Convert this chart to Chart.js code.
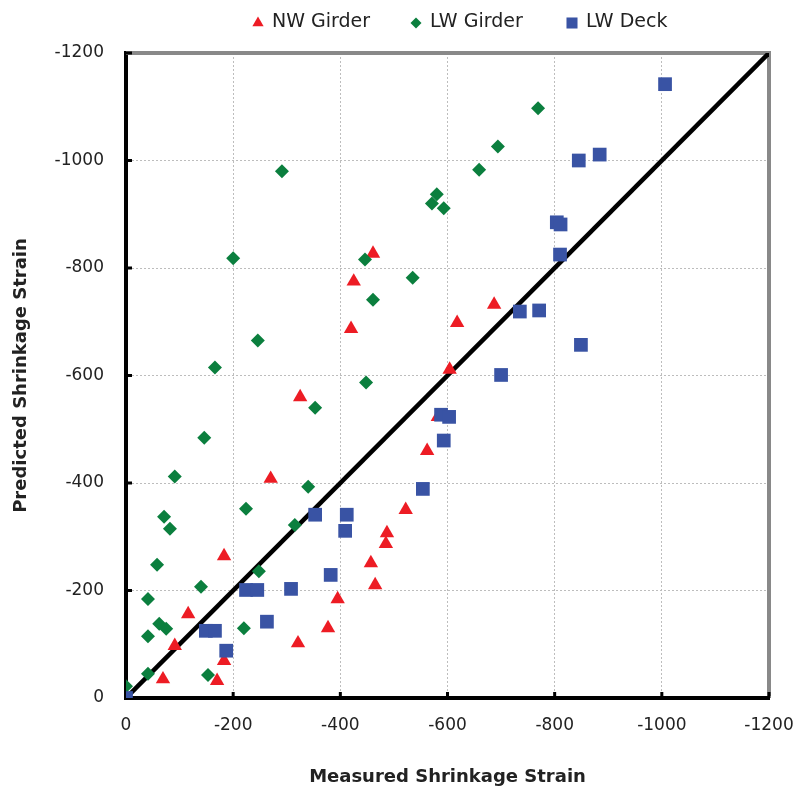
<!DOCTYPE html>
<html>
<head>
<meta charset="utf-8">
<script src="https://cdn.jsdelivr.net/npm/chart.js@4.4.1/dist/chart.umd.min.js"></script>
<style>
  html, body { margin: 0; padding: 0; background: #fff; }
  #wrap { width: 799px; height: 796px; }
</style>
</head>
<body>
<div id="wrap"><canvas id="myChart" width="799" height="796"></canvas></div>
<script>
// measured vs predicted shrinkage strain (negative = shrinkage)
const nwMeasured  = [-325, -270, -183, -116, -91, -69, -183, -170, -321, -377, -395, -457,
                     -465, -485, -487, -522, -562, -582, -604, -461, -425, -420, -687, -618];
const nwPredicted = [-560, -408, -264, -156, -97, -35, -69, -32, -102, -130, -184, -251,
                     -210, -287, -307, -350, -460, -523, -611, -827, -775, -687, -732, -698];

const lwgMeasured  = [-291, -200, -580, -571, -593, -446, -535, -461, -246, -166, -769, -694,
                      -659, -448, -353, -146, -91, -340, -224, -71, -82, -315, -58, -248,
                      -140, -41, -62, -75, -41, -220, -41, -153, 0];
const lwgPredicted = [-980, -818, -937, -920, -911, -816, -782, -741, -665, -615, -1097, -1026,
                      -983, -587, -540, -484, -412, -393, -352, -337, -315, -322, -248, -236,
                      -207, -184, -138, -129, -115, -130, -45, -43, -22];

const deckMeasured  = [-1006, -845, -884, -804, -811, -810, -735, -771, -849, -700, -588, -603,
                       -593, -554, -353, -412, -409, -382, -308, -224, -245, -263, -149, -166,
                       -187, 0];
const deckPredicted = [-1142, -1000, -1011, -885, -881, -825, -719, -721, -657, -601, -527, -523,
                       -479, -389, -341, -341, -311, -229, -203, -201, -201, -142, -125, -125,
                       -88, 0];

// line of equality
const equalityX = [0, -1200];
const equalityY = [0, -1200];

const seriesLabels = ['NW Girder', 'LW Girder', 'LW Deck'];

const toPoints = (xs, ys) => xs.map((x, i) => ({ x: x, y: ys[i] }));

Chart.defaults.font.family = "'DejaVu Sans', sans-serif";
Chart.defaults.color = '#222';

// legend spots at the top of the picture
const legendSpots = {
  'NW Girder': { x: 258, r: 6.5 },
  'LW Girder': { x: 416, r: 5.5 },
  'LW Deck':   { x: 572, r: 7.8 }
};

const topLegend = {
  id: 'topLegend',
  afterDraw(chart) {
    const ctx = chart.ctx;
    ctx.save();
    ctx.font = "19px 'DejaVu Sans'";
    ctx.textBaseline = 'middle';
    chart.data.datasets.forEach(ds => {
      const spot = legendSpots[ds.label];
      if (!spot) return;
      ctx.fillStyle = ds.backgroundColor;
      Chart.helpers.drawPoint(ctx, { pointStyle: ds.pointStyle, radius: spot.r, rotation: 0, borderWidth: 0 }, spot.x, 23);
      ctx.fillStyle = '#222';
      ctx.fillText(ds.label, spot.x + 14, 22);
    });
    ctx.restore();
  }
};

const plotFrame = {
  id: 'plotFrame',
  beforeDatasetsDraw(chart) {
    const { ctx, chartArea: a, scales } = chart;
    ctx.save();
    ctx.strokeStyle = '#898989';
    ctx.lineWidth = 4;
    ctx.beginPath();
    ctx.moveTo(a.left, a.top);
    ctx.lineTo(a.right, a.top);
    ctx.lineTo(a.right, a.bottom - 2);
    ctx.stroke();
    // small inner tick marks
    ctx.strokeStyle = '#000';
    ctx.lineWidth = 3;
    ctx.beginPath();
    scales.y.ticks.forEach(t => {
      const py = scales.y.getPixelForValue(t.value);
      ctx.moveTo(a.left, py);
      ctx.lineTo(a.left + 6, py);
    });
    scales.x.ticks.forEach(t => {
      const px = scales.x.getPixelForValue(t.value);
      ctx.moveTo(px, a.bottom);
      ctx.lineTo(px, a.bottom - 6);
    });
    ctx.stroke();
    ctx.restore();
  }
};

const ctx = document.getElementById('myChart').getContext('2d');
new Chart(ctx, {
  type: 'scatter',
  data: {
    datasets: [
      {
        label: seriesLabels[0],
        data: toPoints(nwMeasured, nwPredicted),
        pointStyle: 'triangle',
        backgroundColor: '#ed1c24',
        borderWidth: 0,
        pointRadius: 8.3,
        order: 3
      },
      {
        label: seriesLabels[1],
        data: toPoints(lwgMeasured, lwgPredicted),
        pointStyle: 'rectRot',
        backgroundColor: '#0b7f3e',
        borderWidth: 0,
        pointRadius: 7,
        order: 2
      },
      {
        label: seriesLabels[2],
        data: toPoints(deckMeasured, deckPredicted),
        pointStyle: 'rect',
        backgroundColor: '#3953a4',
        borderWidth: 0,
        pointRadius: 9.7,
        order: 1
      },
      {
        label: 'equality',
        data: toPoints(equalityX, equalityY),
        showLine: true,
        borderColor: '#000',
        borderWidth: 4.5,
        pointRadius: 0,
        order: 4
      }
    ]
  },
  options: {
    responsive: false,
    animation: false,
    layout: { padding: { top: 53, right: 30, left: 0, bottom: 0 } },
    plugins: {
      legend: { display: false },
      tooltip: { enabled: false }
    },
    scales: {
      x: {
        type: 'linear',
        min: -1200,
        max: 0,
        reverse: true,
        ticks: { stepSize: 200, font: { size: 17 }, color: '#222', padding: 17, callback: v => String(v) },
        grid: { color: '#bdbdbd', lineWidth: 1, drawTicks: false },
        border: { color: '#000', width: 4, dash: [2, 2] },
        title: {
          display: true,
          text: 'Measured Shrinkage Strain',
          color: '#222',
          font: { size: 18, weight: 'bold' },
          padding: { top: 0, bottom: 8 }
        },
        afterFit: s => {
          s.height = 98;
          s.paddingLeft = 0;
          s.paddingRight = 0;
        }
      },
      y: {
        type: 'linear',
        min: -1200,
        max: 0,
        reverse: true,
        ticks: { stepSize: 200, font: { size: 17 }, color: '#222', padding: 22, callback: v => String(v) },
        grid: { color: '#bdbdbd', lineWidth: 1, drawTicks: false },
        border: { color: '#000', width: 4, dash: [2, 2] },
        title: {
          display: true,
          text: 'Predicted Shrinkage Strain',
          color: '#222',
          font: { size: 18, weight: 'bold' },
          padding: { top: 11, bottom: 0 }
        },
        afterFit: s => { s.width = 126; }
      }
    }
  },
  plugins: [plotFrame, topLegend]
});
</script>
</body>
</html>
